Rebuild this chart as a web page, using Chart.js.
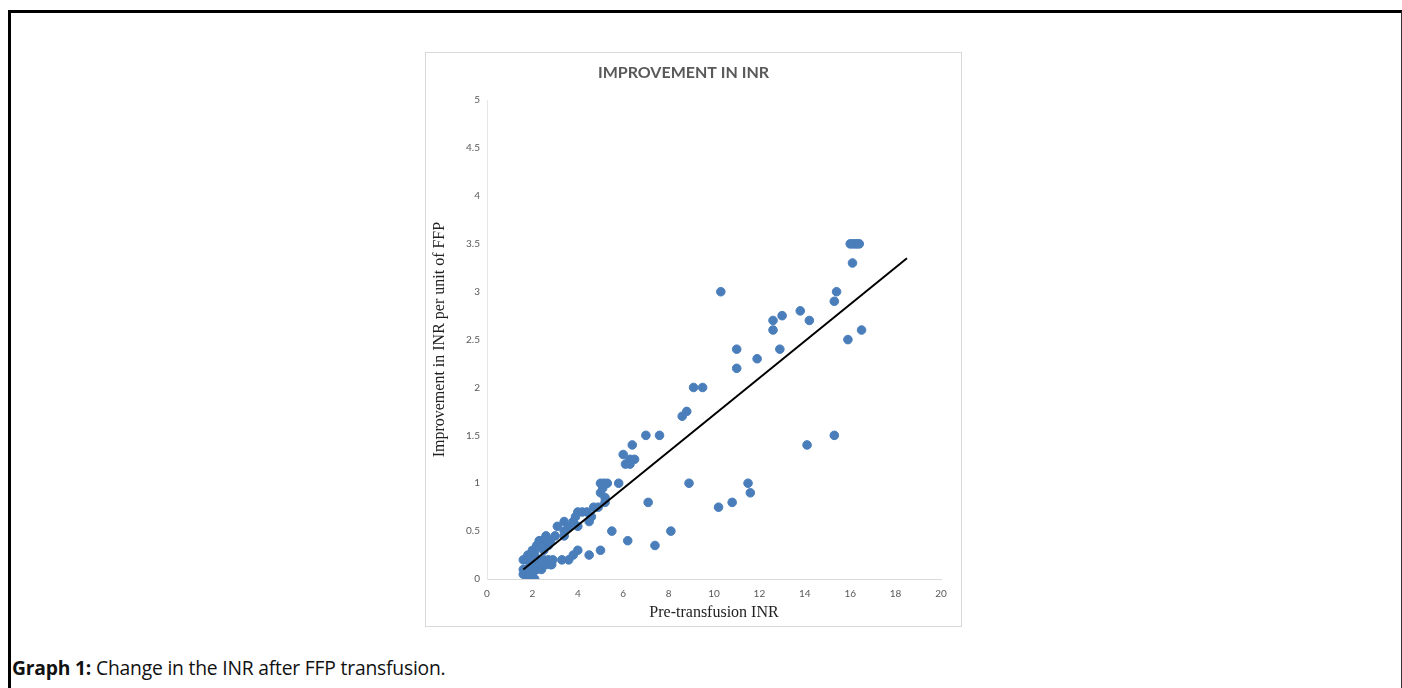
<!DOCTYPE html>
<html>
<head>
<meta charset="utf-8">
<script src="https://cdn.jsdelivr.net/npm/chart.js@4"></script>
<style>
  html, body { margin: 0; padding: 0; background: #fff; }
  body { width: 1402px; height: 688px; position: relative; overflow: hidden; }
  #marco {
    position: absolute; left: 8px; top: 10px; width: 1390px; height: 700px;
    border-left: 3px solid #000; border-top: 3px solid #000; border-right: 1px solid #333;
  }
  #caja {
    position: absolute; left: 425px; top: 52px; width: 535px; height: 573px;
    border: 1px solid #d9d9d9;
  }
  #leyenda {
    position: absolute; left: 12px; top: 654px;
    font-family: "Open Sans", sans-serif; font-size: 19.3px; color: #111;
    letter-spacing: -0.2px;
  }
</style>
</head>
<body>
<div id="marco"></div>
<div id="caja"><canvas id="graficoINR" width="535" height="573"></canvas></div>
<div id="leyenda"><b>Graph 1:</b> Change in the INR after FFP transfusion.</div>

<script>
// INR pre-transfusion (x) y mejora del INR por unidad de PFC (y)
const inrPre = [
  16.0, 16.1, 16.2, 16.3, 16.4, 16.1, 10.3, 15.4, 15.3, 13.8,
  13.0, 12.6, 14.2, 12.6, 16.5, 15.9, 11.0, 12.9, 11.9, 11.0,
  9.1, 9.5, 8.8, 8.6, 7.0, 7.6, 15.3, 14.1, 6.4, 6.0,
  6.3, 6.5, 6.1, 6.3, 5.8, 5.0, 5.15, 5.3, 5.0, 5.1,
  5.2, 5.2, 8.9, 11.5, 11.6, 7.1, 10.8, 10.2, 5.5, 8.1,
  6.2, 7.4, 5.0, 4.5, 4.0, 3.8, 3.6, 3.3, 2.9, 4.0,
  4.2, 3.9, 3.8, 4.0, 4.7, 4.9, 4.6, 4.5, 4.4, 3.4,
  3.1, 3.4, 3.4, 3.6, 3.0,
  1.6, 1.8, 1.9, 2.1, 2.2, 2.4, 2.6, 1.8, 2.0, 2.2,
  2.3, 2.5, 2.6, 2.7, 2.3, 2.5, 2.1, 1.9, 2.8,
  1.6, 1.6, 1.8, 2.1, 2.0, 1.8, 2.2, 2.4, 2.3, 2.5,
  2.6, 2.8, 2.7, 2.45, 2.1, 1.9, 2.0, 2.2, 2.85
];
const mejoraINR = [
  3.5, 3.5, 3.5, 3.5, 3.5, 3.3, 3.0, 3.0, 2.9, 2.8,
  2.75, 2.7, 2.7, 2.6, 2.6, 2.5, 2.4, 2.4, 2.3, 2.2,
  2.0, 2.0, 1.75, 1.7, 1.5, 1.5, 1.5, 1.4, 1.4, 1.3,
  1.25, 1.25, 1.2, 1.2, 1.0, 1.0, 1.0, 1.0, 0.9, 0.95,
  0.85, 0.8, 1.0, 1.0, 0.9, 0.8, 0.8, 0.75, 0.5, 0.5,
  0.4, 0.35, 0.3, 0.25, 0.3, 0.25, 0.2, 0.2, 0.2, 0.7,
  0.7, 0.65, 0.6, 0.55, 0.75, 0.75, 0.65, 0.6, 0.7, 0.6,
  0.55, 0.5, 0.45, 0.55, 0.45,
  0.2, 0.2, 0.25, 0.3, 0.35, 0.4, 0.45, 0.25, 0.3, 0.35,
  0.35, 0.4, 0.4, 0.35, 0.4, 0.3, 0.25, 0.2, 0.4,
  0.1, 0.05, 0.0, 0.0, 0.05, 0.1, 0.1, 0.1, 0.15, 0.2,
  0.15, 0.15, 0.2, 0.15, 0.15, 0.15, 0.1, 0.2, 0.15
];

// Linea de tendencia (extremos)
const tendenciaX = [1.6, 18.5];
const tendenciaY = [0.1, 3.35];

const ticksX = [0, 2, 4, 6, 8, 10, 12, 14, 16, 18, 20];
const ticksY = [0, 0.5, 1, 1.5, 2, 2.5, 3, 3.5, 4, 4.5, 5];

const puntos = inrPre.map((x, i) => ({ x: x, y: mejoraINR[i] }));
const tendencia = tendenciaX.map((x, i) => ({ x: x, y: tendenciaY[i] }));

const ctx = document.getElementById('graficoINR').getContext('2d');
new Chart(ctx, {
    type: 'scatter',
    data: {
        datasets: [
            {
                label: 'Tendencia',
                type: 'line',
                data: tendencia,
                borderColor: '#000',
                borderWidth: 2,
                pointRadius: 0,
                fill: false,
                order: 0
            },
            {
                label: 'INR',
                data: puntos,
                backgroundColor: '#4A7EBB',
                borderColor: '#4A7EBB',
                pointRadius: 4.3,
                order: 1
            }
        ]
    },
    options: {
        responsive: false,
        animation: false,
        layout: { padding: { left: 0, right: 20, top: 0, bottom: 0 } },
        plugins: {
            legend: { display: false },
            tooltip: { enabled: false },
            title: {
                display: true,
                text: 'IMPROVEMENT IN INR',
                color: '#595959',
                font: { family: 'Lato', size: 16, weight: 'bold' },
                padding: { top: 10, bottom: 18 }
            }
        },
        scales: {
            x: {
                type: 'linear',
                min: 0, max: 20,
                afterBuildTicks: s => { s.ticks = ticksX.map(v => ({ value: v })); },
                afterFit: s => { s.height = 47; },
                grid: { display: false, drawTicks: false },
                border: { display: true, color: '#d9d9d9' },
                ticks: {
                    color: '#595959', font: { family: 'Lato', size: 10 }, padding: 9,
                    callback: v => String(v)
                },
                title: {
                    display: true, text: 'Pre-transfusion INR', color: '#222',
                    font: { family: 'Liberation Serif', size: 16 }, padding: { top: 2 }
                }
            },
            y: {
                type: 'linear',
                min: 0, max: 5,
                afterBuildTicks: s => { s.ticks = ticksY.map(v => ({ value: v })); },
                afterFit: s => { s.width = 61; },
                grid: { display: false, drawTicks: false },
                border: { display: true, color: '#e6e6e6' },
                ticks: {
                    color: '#595959', font: { family: 'Lato', size: 10 }, padding: 7,
                    callback: v => String(v)
                },
                title: {
                    display: true, text: 'Improvement in INR per unit of FFP', color: '#222',
                    font: { family: 'Liberation Serif', size: 16 }, padding: { bottom: 0 }
                }
            }
        }
    }
});
</script>
</body>
</html>
